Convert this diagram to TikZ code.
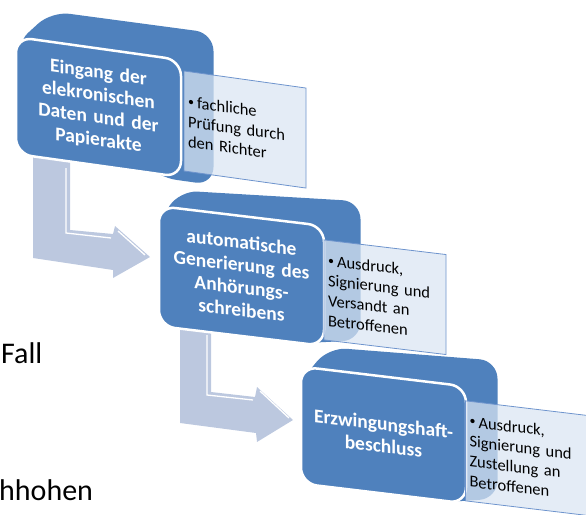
\documentclass[tikz,border=0pt]{standalone}
\usepackage{fontspec}
\setmainfont{Carlito}
\definecolor{boxblue}{RGB}{79,129,189}
\definecolor{arrowblue}{RGB}{188,200,223}
\definecolor{notefill}{RGB}{218,229,243}
\definecolor{noteedge}{RGB}{110,148,205}
\newcommand{\notebullet}{\hangindent=9pt\hangafter=1\noindent
  \makebox[9pt][l]{\fontsize{12}{12}\selectfont\raisebox{2pt}{\textbullet}}}

\begin{document}
\begin{tikzpicture}[x=1pt,y=-1pt,
    frontbox/.style={draw=white, line width=2.5pt, fill=boxblue, rounded corners=16pt,
      minimum width=165pt, minimum height=117pt, text width=150pt, align=center,
      text=white, font=\bfseries\fontsize{19.5}{22.5}\selectfont},
    notebox/.style={draw=noteedge, line width=0.8pt, fill=notefill, fill opacity=0.72,
      text opacity=1, minimum width=122pt, minimum height=100pt, inner xsep=4pt,
      text width=114pt, align=left, font=\fontsize{16.5}{20}\selectfont},
    backbox/.style={fill=boxblue, rounded corners=18pt},
    bendarrow/.style={fill=arrowblue},
    glint/.style={draw=white, line width=1.3pt},
    pagetext/.style={font=\fontsize{30}{36}\selectfont, anchor=base west, inner sep=0pt}]
    \useasboundingbox (0,0) rectangle (586,514);

    % Seitentext
    \node[pagetext] (fall) at (1,363) {Fall};
    \node[pagetext] (hhohen) at (-1,500) {hhohen};

    % Pfeile
    \fill[bendarrow] (33,150) -- (70,150) -- (70,230) -- (113,234) -- (115,226) -- (150,257)
      -- (113,278) -- (113,270) -- (33,258) -- cycle;
    \draw[glint] (66,168) -- (66,233) -- (111,238);
    \draw[glint] (118,231) -- (145,255);
    \fill[bendarrow] (180,320) -- (211,320) -- (211,392) -- (255,397) -- (257,387) -- (293,420)
      -- (257,442) -- (256,433) -- (180,423) -- cycle;
    \draw[glint] (207,335) -- (207,395) -- (253,400);
    \draw[glint] (260,391) -- (289,418);

    % Block 1
    \begin{scope}[shift={(98.5,107)},yslant=-0.14,transform shape]
      \fill[backbox] (-84,-50) -- (-47,-89) -- (115,-90) -- (115,62) -- (60,62) -- cycle;
      \node[frontbox] (eingang) at (0,0) {Eingang der\\elekronischen\\Daten und der\\Papierakte};
      \node[notebox] (pruefung) at (146.5,2) {\notebullet fachliche\\Prüfung durch\\den Richter};
    \end{scope}

    % Block 2
    \begin{scope}[shift={(241.5,276)},yslant=-0.12,transform shape]
      \fill[backbox] (-82,-45) -- (-62,-78) -- (119,-89) -- (119,50) -- (60,60) -- cycle;
      \node[frontbox, minimum height=120pt] (anhoerung) at (0,0) {automatische\\Generierung des\\Anhörungs-\\schreibens};
      \node[notebox] (versand) at (143.5,4) {\notebullet Ausdruck,\\Signierung und\\Versandt an\\Betroffenen};
    \end{scope}

    % Block 3
    \begin{scope}[shift={(383.5,435)},yslant=-0.12,transform shape]
      \fill[backbox] (-82,-45) -- (-55,-81) -- (114,-88) -- (114,50) -- (60,60) -- cycle;
      \node[frontbox] (haftbeschluss) at (0,0) {Erzwingungshaft-\\beschluss};
      \node[notebox] (zustellung) at (143,6) {\notebullet Ausdruck,\\Signierung und\\Zustellung an\\Betroffenen};
    \end{scope}
\end{tikzpicture}
\end{document}
